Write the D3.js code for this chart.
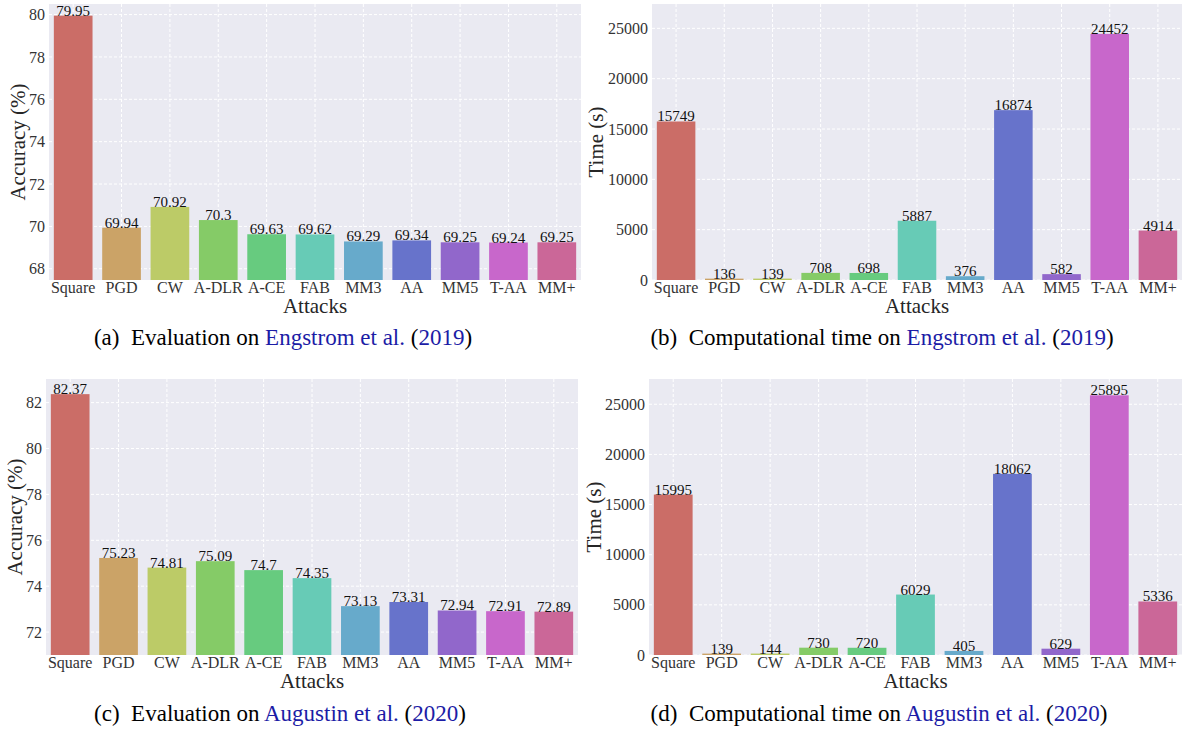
<html>
<head>
<meta charset="utf-8">
<title>attack evaluation bars</title>
<script src="https://cdn.jsdelivr.net/npm/d3@7"></script>
<style>
  html, body{
    margin: 0;
    background: #fff;
  }
  svg text{
    font-family: "Liberation Serif", "Times New Roman", serif;
  }
  .grid line{
    stroke: #fff;
    stroke-width: 1;
    stroke-dasharray: 3,2;
  }
  .tick text{
    fill: #333;
  }
</style>
</head>
<body>
<svg id="chart" width="1186" height="731"></svg>
<script>
// attacks on the x axis, same order in every panel
var attacks = ["Square", "PGD", "CW", "A-DLR", "A-CE", "FAB", "MM3", "AA", "MM5", "T-AA", "MM+"];

// (a) accuracy, Engstrom et al. 2019
var accEngstrom = [79.95, 69.94, 70.92, 70.3, 69.63, 69.62, 69.29, 69.34, 69.25, 69.24, 69.25];
// (b) time, Engstrom et al. 2019
var timeEngstrom = [15749, 136, 139, 708, 698, 5887, 376, 16874, 582, 24452, 4914];
// (c) accuracy, Augustin et al. 2020
var accAugustin = [82.37, 75.23, 74.81, 75.09, 74.7, 74.35, 73.13, 73.31, 72.94, 72.91, 72.89];
// (d) time, Augustin et al. 2020
var timeAugustin = [15995, 139, 144, 730, 720, 6029, 405, 18062, 629, 25895, 5336];

var accTicksEngstrom = [68, 70, 72, 74, 76, 78, 80];
var accTicksAugustin = [72, 74, 76, 78, 80, 82];
var timeTicks = [0, 5000, 10000, 15000, 20000, 25000];

var linkBlue = "#1c1ca6";

// seaborn hls palette, desaturated like barplot does it
var palette = attacks.map(function(d, i){
  return d3.hsl((0.01 + i / attacks.length) * 360, 0.4875, 0.6).formatHex();
});

var svg = d3.select("#chart");

var panels = [
  {left: 49, right: 581, top: 4, bottom: 280, values: accEngstrom, domain: [67.47, 80.5],
   ticks: accTicksEngstrom, ylabel: "Accuracy (%)", ylabelX: 25,
   tag: "(a)", lead: "Evaluation on ", cite: "Engstrom et al.", year: "2019", capX: 283, capY: 345},
  {left: 652, right: 1182, top: 4, bottom: 280, values: timeEngstrom, domain: [0, 27420],
   ticks: timeTicks, ylabel: "Time (s)", ylabelX: 603,
   tag: "(b)", lead: "Computational time on ", cite: "Engstrom et al.", year: "2019", capX: 882, capY: 345},
  {left: 46, right: 578, top: 379, bottom: 655, values: accAugustin, domain: [71.0, 83.03],
   ticks: accTicksAugustin, ylabel: "Accuracy (%)", ylabelX: 22,
   tag: "(c)", lead: "Evaluation on ", cite: "Augustin et al.", year: "2020", capX: 280, capY: 721},
  {left: 649, right: 1182, top: 379, bottom: 655, values: timeAugustin, domain: [0, 27520],
   ticks: timeTicks, ylabel: "Time (s)", ylabelX: 601,
   tag: "(d)", lead: "Computational time on ", cite: "Augustin et al.", year: "2020", capX: 879, capY: 721}
];

panels.forEach(function(p){
  var x = d3.scaleBand()
    .domain(attacks)
    .range([p.left, p.right])
    .paddingInner(0.2)
    .paddingOuter(0.1);

  var y = d3.scaleLinear()
    .domain(p.domain)
    .range([p.bottom, p.top]);

  var g = svg.append("g");

  g.append("rect")
    .attr("x", p.left)
    .attr("y", p.top)
    .attr("width", p.right - p.left)
    .attr("height", p.bottom - p.top)
    .attr("fill", "#eaeaf2");

  var grid = g.append("g").attr("class", "grid");
  grid.selectAll(".hg")
    .data(p.ticks)
    .enter().append("line")
    .attr("x1", p.left).attr("x2", p.right)
    .attr("y1", function(d){ return y(d); })
    .attr("y2", function(d){ return y(d); });
  grid.selectAll(".vg")
    .data(attacks)
    .enter().append("line")
    .attr("x1", function(d){ return x(d) + x.bandwidth() / 2; })
    .attr("x2", function(d){ return x(d) + x.bandwidth() / 2; })
    .attr("y1", p.top).attr("y2", p.bottom);

  // axes: labels only, no lines
  var yAxis = g.append("g")
    .attr("transform", "translate(" + p.left + ",0)")
    .call(d3.axisLeft(y).tickValues(p.ticks).tickSize(0).tickPadding(4).tickFormat(d3.format("d")));
  yAxis.select(".domain").remove();
  yAxis.selectAll("text").attr("font-size", 16);

  var xAxis = g.append("g")
    .attr("transform", "translate(0," + p.bottom + ")")
    .call(d3.axisBottom(x).tickSize(0).tickPadding(2));
  xAxis.select(".domain").remove();
  xAxis.selectAll("text").attr("font-size", 16);
  yAxis.attr("font-family", null);
  xAxis.attr("font-family", null);

  g.selectAll(".bar")
    .data(p.values)
    .enter().append("rect")
    .attr("x", function(d, i){ return x(attacks[i]); })
    .attr("y", function(d){ return y(d); })
    .attr("width", x.bandwidth())
    .attr("height", function(d){ return p.bottom - y(d); })
    .attr("fill", function(d, i){ return palette[i]; });

  g.selectAll(".val")
    .data(p.values)
    .enter().append("text")
    .attr("x", function(d, i){ return x(attacks[i]) + x.bandwidth() / 2; })
    .attr("y", function(d){ return y(d); })
    .attr("text-anchor", "middle")
    .attr("font-size", 15)
    .attr("fill", "#111")
    .text(function(d){ return String(d); });

  g.append("text")
    .attr("x", (p.left + p.right) / 2)
    .attr("y", p.bottom + 33)
    .attr("text-anchor", "middle")
    .attr("font-size", 21)
    .attr("fill", "#262626")
    .text("Attacks");

  g.append("text")
    .attr("transform", "translate(" + p.ylabelX + "," + ((p.top + p.bottom) / 2) + ") rotate(-90)")
    .attr("text-anchor", "middle")
    .attr("font-size", 21)
    .attr("fill", "#262626")
    .text(p.ylabel);

  var cap = g.append("text")
    .attr("x", p.capX)
    .attr("y", p.capY)
    .attr("text-anchor", "middle")
    .attr("font-size", 23)
    .attr("fill", "#000");
  cap.append("tspan").text(p.tag + "\u2002" + p.lead);
  cap.append("tspan").attr("fill", linkBlue).text(p.cite);
  cap.append("tspan").text(" (");
  cap.append("tspan").attr("fill", linkBlue).text(p.year);
  cap.append("tspan").text(")");
});
</script>
</body>
</html>
